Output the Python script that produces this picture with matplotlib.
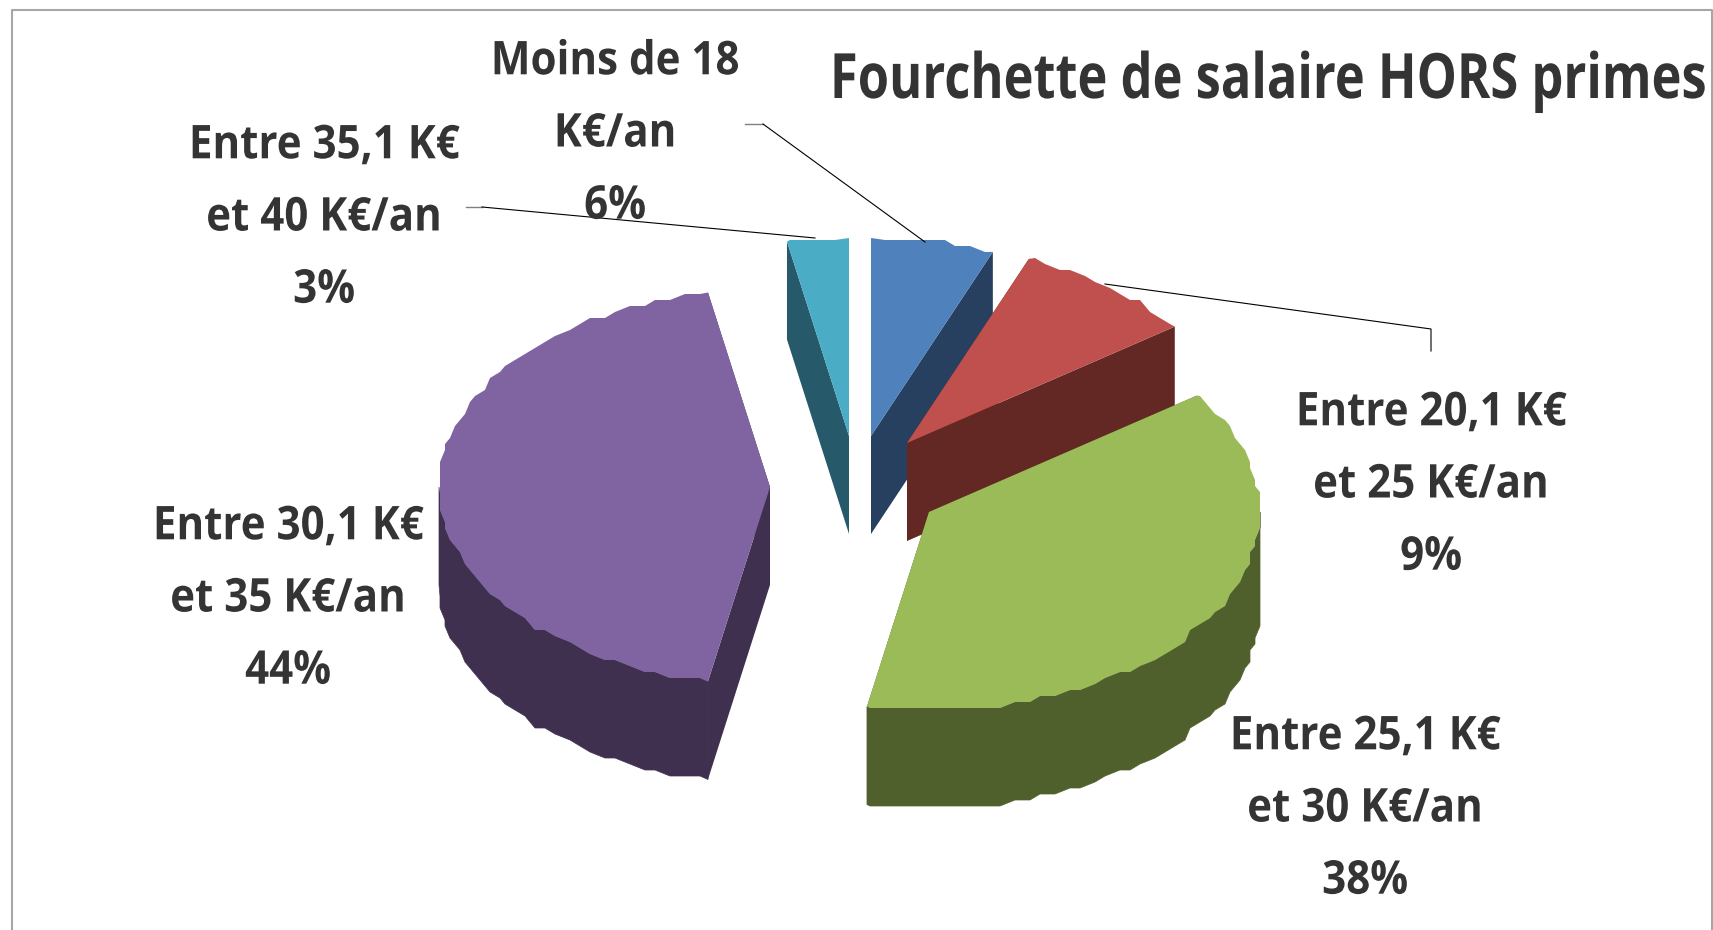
import numpy as np
import matplotlib
matplotlib.use('Agg')
import matplotlib.pyplot as plt
from matplotlib.patches import Polygon
from matplotlib.patheffects import AbstractPathEffect
from matplotlib.transforms import Affine2D, Bbox

# parts du camembert, dans le sens horaire depuis midi
values = [6, 9, 38, 44, 3]
labels = ['Moins de 18\nK€/an\n6%',
          'Entre 20,1 K€\net 25 K€/an\n9%',
          'Entre 25,1 K€\net 30 K€/an\n38%',
          'Entre 30,1 K€\net 35 K€/an\n44%',
          'Entre 35,1 K€\net 40 K€/an\n3%']
title = 'Fourchette de salaire HORS primes'

# style
top_colors = ['#4F81BD', '#C0504D', '#9BBB59', '#8064A2', '#4BACC6']
side_colors = ['#27405F', '#632724', '#4F602C', '#403050', '#26596A']
centers = [(871, 436), (907, 443), (929, 512), (770, 487), (849, 436)]
label_pos = [(615, 134), (1431, 485), (1365, 809), (288, 599), (324, 218)]
RX, RY, DEPTH = 331, 198, 98
TEXT = '#343434'
FAMILY = 'Open Sans'
LABEL_SX, TITLE_SX = 0.905, 0.81


class SqueezeX(AbstractPathEffect):
    # la police d'origine est etroite : on resserre chaque ligne autour d'un point d'ancrage
    def __init__(self, sx, anchor=0.5):
        super().__init__()
        self.sx = sx
        self.anchor = anchor

    def draw_path(self, renderer, gc, tpath, affine, rgbFace=None):
        box = tpath.get_extents(affine)
        ref = box.x0 + self.anchor * (box.x1 - box.x0)
        t = affine + Affine2D().translate(-ref, 0).scale(self.sx, 1).translate(ref, 0)
        renderer.draw_path(gc, tpath, t, rgbFace)


fig = plt.figure(figsize=(17.13, 9.30), dpi=100)
ax = fig.add_axes([0, 0, 1, 1])
ax.set_xlim(0, 1713)
ax.set_ylim(930, 0)
ax.axis('off')


def rim(cx, cy, a0, a1):
    # arc en escalier, le bord de la reference est tres pixelise
    inside = np.arange(2.5, 360, 2.5)
    inside = inside[(inside > a0 + 0.5) & (inside < a1 - 0.5)]
    t = np.radians(inside)
    x = np.round((cx + RX * np.sin(t)) / 5) * 5
    y = np.round((cy - RY * np.cos(t)) / 6) * 6
    first = [cx + RX * np.sin(np.radians(a0)), cy - RY * np.cos(np.radians(a0))]
    last = [cx + RX * np.sin(np.radians(a1)), cy - RY * np.cos(np.radians(a1))]
    return np.vstack([first, np.column_stack([x, y]), last])


down = np.array([0, DEPTH])
angles = np.concatenate([[0], np.cumsum(values)]) * 3.6

for i in range(len(values)):
    a0, a1 = angles[i], angles[i + 1]
    c = np.array(centers[i], dtype=float)
    edge = rim(c[0], c[1], a0, a1)

    # faces radiales
    for p in (edge[0], edge[-1]):
        ax.add_patch(Polygon([c, p, p + down, c + down], fc=side_colors[i], ec='none', zorder=2 + i))

    # paroi exterieure, visible seulement sur la moitie basse
    lo, hi = max(a0, 90), min(a1, 270)
    if hi > lo:
        wall = rim(c[0], c[1], lo, hi)
        ax.add_patch(Polygon(np.vstack([wall, (wall + down)[::-1]]), fc=side_colors[i], ec=side_colors[i],
                             lw=0.5, zorder=2 + i))

    ax.add_patch(Polygon(np.vstack([c, edge]), fc=top_colors[i], ec='none', zorder=2 + i))

for i, lab in enumerate(labels):
    ax.text(label_pos[i][0], label_pos[i][1], lab, family=FAMILY, weight='bold', fontsize=33.5,
            color=TEXT, ha='center', va='center', linespacing=1.7, zorder=20,
            path_effects=[SqueezeX(LABEL_SX)])

# ancre a droite pour que la boite du texte reste dans la figure
title_text = ax.text(1706, 98, title, family=FAMILY, weight='bold', fontsize=45, color=TEXT,
                     ha='right', va='baseline', zorder=20, path_effects=[SqueezeX(TITLE_SX, anchor=1.0)])
full_extent = title_text.get_window_extent


def squeezed_extent(*args, **kwargs):
    # la boite annoncee doit suivre le texte resserre
    bb = full_extent(*args, **kwargs)
    return Bbox.from_extents(bb.x1 - TITLE_SX * bb.width, bb.y0, bb.x1, bb.y1)


title_text.get_window_extent = squeezed_extent

# traits de rappel
ax.plot([745, 763], [124, 124], color='#808080', lw=1, zorder=15)
ax.plot([763, 925], [124, 242], color='black', lw=0.8, zorder=15)
ax.plot([466, 482], [207, 207], color='#808080', lw=1, zorder=15)
ax.plot([482, 815], [207, 238], color='black', lw=0.8, zorder=15)
ax.plot([1105, 1431, 1431], [284, 329, 351], color='black', lw=0.8, zorder=15)

# cadre du graphique
ax.plot([12, 12, 1712, 1712], [930, 10, 10, 930], color='#A6A6A6', lw=1.5, zorder=1, clip_on=False)

fig.savefig('out.png', dpi=100, facecolor='white')
